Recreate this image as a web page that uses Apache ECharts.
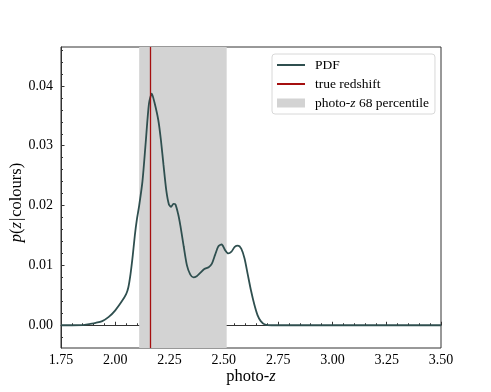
<!DOCTYPE html>
<html><head><meta charset="utf-8">
<script src="https://cdn.jsdelivr.net/npm/echarts@6/dist/echarts.min.js"></script>
<style>html,body{margin:0;padding:0;background:#fff}#c{width:491px;height:392px}</style>
</head><body><div id="c"></div>
<script>
var zValues = [1.75,1.80,1.85,1.88,1.91,1.94,1.97,2.00,2.03,2.05,2.06,2.07,2.08,2.09,2.10,2.11,2.125,2.14,2.155,2.168,2.18,2.198,2.21,2.222,2.235,2.247,2.257,2.268,2.277,2.29,2.30,2.315,2.33,2.345,2.36,2.375,2.39,2.41,2.43,2.445,2.46,2.475,2.49,2.505,2.52,2.535,2.55,2.565,2.58,2.595,2.61,2.625,2.64,2.655,2.67,2.69,2.72,3.00,3.25,3.50];
var pdfValues = [0,0,0.00002,0.0002,0.0004,0.0007,0.0014,0.0025,0.0040,0.0052,0.0063,0.0085,0.0115,0.0150,0.0178,0.0200,0.0240,0.0305,0.0370,0.0387,0.0373,0.0343,0.0310,0.0268,0.0225,0.0202,0.0198,0.0203,0.0202,0.0185,0.0166,0.0132,0.0100,0.0085,0.0080,0.0082,0.0087,0.0094,0.0097,0.0103,0.0118,0.0132,0.0135,0.0126,0.0120,0.0123,0.0131,0.0133,0.0128,0.0112,0.0085,0.0058,0.0035,0.0017,0.0007,0.0001,0,0,0,0];
var trueRedshift = 2.163;
var band68 = [2.11, 2.513];
var yTicks = [0, 0.01, 0.02, 0.03, 0.04];
var xTickLabels = ['1.75','2.00','2.25','2.50','2.75','3.00','3.25','3.50'];

var yMinor = [];
for (var k = -1; k <= 23; k++) { if (k % 5 !== 0) yMinor.push(+(k * 0.002).toFixed(4)); }

var serif = '"Liberation Serif","DejaVu Serif",serif';
var axisColor = '#333';
var chart = echarts.init(document.getElementById('c'), null, {renderer: 'canvas'});
var pdfData = zValues.map(function (z, i) { return [z, pdfValues[i]]; });

chart.setOption({
  animation: false,
  grid: {left: 61, right: 50, top: 47, bottom: 44, show: true, borderColor: axisColor, borderWidth: 1,
    backgroundColor: 'transparent', containLabel: false, outerBoundsMode: 'none'},
  legend: {
    orient: 'vertical', left: 272, top: 54, padding: [4, 6, 4, 4], itemGap: 5,
    itemWidth: 28, itemHeight: 9,
    backgroundColor: '#fff', borderColor: '#d8d8d8', borderWidth: 1, borderRadius: 3,
    textStyle: {fontFamily: serif, fontSize: 13.5, color: '#000', padding: [0, 0, 0, 5],
      rich: {i: {fontFamily: serif, fontStyle: 'italic', fontSize: 13.5, color: '#000'}}},
    formatter: function (n) { return n === 'photo-z 68 percentile' ? 'photo-{i|z} 68 percentile' : n; },
    data: [
      {name: 'PDF', itemStyle: {opacity: 0}},
      {name: 'true redshift', itemStyle: {opacity: 0}},
      {name: 'photo-z 68 percentile', icon: 'rect'}
    ]
  },
  xAxis: {
    type: 'value', min: 1.75, max: 3.5, interval: 0.25,
    name: 'photo-{i|z}', nameLocation: 'middle', nameGap: 20, nameMoveOverlap: false,
    nameTextStyle: {fontFamily: serif, fontSize: 16.5, color: '#000',
      rich: {i: {fontFamily: serif, fontStyle: 'italic', fontSize: 16.5, color: '#000'}}},
    axisLine: {show: true, lineStyle: {color: axisColor, width: 1}},
    axisTick: {show: true, inside: true, length: 3.5, lineStyle: {color: axisColor}},
    minorTick: {show: true, splitNumber: 5, length: 2, lineStyle: {color: axisColor}},
    axisLabel: {fontFamily: serif, fontSize: 14, color: '#000', margin: 5,
      formatter: function (v) { return v.toFixed(2); }},
    splitLine: {show: false}
  },
  yAxis: [{
    type: 'value', min: -0.0038, max: 0.0465,
    name: '{i|p}({i|z}{b||}colours)', nameLocation: 'middle', nameGap: 36, nameMoveOverlap: false,
    nameTextStyle: {fontFamily: serif, fontSize: 16.5, color: '#000', padding: [0, 10, 0, 0],
      rich: {i: {fontFamily: serif, fontStyle: 'italic', fontSize: 16.5, color: '#000'},
             b: {fontFamily: serif, fontSize: 16.5, color: '#000', padding: [0, 1, 0, 1]}}},
    axisLine: {show: true, lineStyle: {color: axisColor, width: 1}},
    axisTick: {show: true, inside: true, length: 3.5, customValues: yTicks, lineStyle: {color: axisColor}},
    axisLabel: {fontFamily: serif, fontSize: 14, color: '#000', margin: 8, customValues: yTicks,
      formatter: function (v) { return v.toFixed(2); }},
    splitLine: {show: false}
  }, {
    type: 'value', min: -0.0038, max: 0.0465, position: 'left', offset: 0,
    axisLine: {show: false},
    axisTick: {show: true, inside: true, length: 2, customValues: yMinor, lineStyle: {color: axisColor}},
    axisLabel: {show: false},
    splitLine: {show: false}
  }],
  series: [{
    name: 'photo-z 68 percentile', type: 'line', data: [], symbol: 'none',
    itemStyle: {color: '#d3d3d3'}, lineStyle: {color: '#d3d3d3'}, z: 1,
    markArea: {silent: true, itemStyle: {color: '#d3d3d3'}, data: [[{xAxis: band68[0]}, {xAxis: band68[1]}]]}
  }, {
    name: 'true redshift', type: 'line', data: [], symbol: 'none',
    itemStyle: {color: '#a50f0f'}, lineStyle: {color: '#a50f0f', width: 1.3}, z: 3,
    markLine: {silent: true, symbol: 'none', label: {show: false},
      lineStyle: {color: '#a50f0f', width: 1.3, type: 'solid'}, data: [{xAxis: trueRedshift}]}
  }, {
    name: 'PDF', type: 'line', data: pdfData, symbol: 'none', smooth: 0.25,
    itemStyle: {color: '#2f4f4f'}, lineStyle: {color: '#2f4f4f', width: 1.8}, z: 4
  }]
});
</script></body></html>
